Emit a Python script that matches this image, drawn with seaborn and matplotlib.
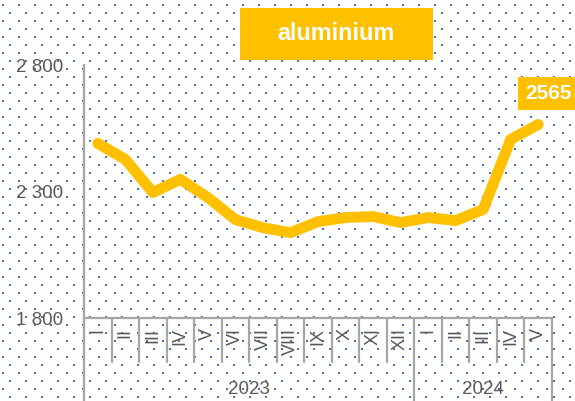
import numpy as np
import pandas as pd
import matplotlib
matplotlib.use('Agg')
import matplotlib.pyplot as plt
import matplotlib.transforms as mtransforms
from matplotlib.patches import Rectangle
import seaborn as sns

# dados
months = ['I', 'II', 'III', 'IV', 'V', 'VI', 'VII', 'VIII', 'IX', 'X', 'XI', 'XII',
          'I', 'II', 'III', 'IV', 'V']
years = ['2023', '2024']
year_counts = [12, 5]
prices = [2490, 2427, 2296, 2348, 2276, 2189, 2157, 2137, 2181, 2197, 2201, 2177,
          2197, 2185, 2229, 2506, 2565]
yticks = [1800, 2300, 2800]
title = 'aluminium'

GOLD = '#FFC000'
GREY_TXT = '#595959'
GREY_LN = '#A6A6A6'

sns.set_theme(style='white')
plt.rcParams['font.family'] = ['Liberation Sans', 'DejaVu Sans']

W, H = 575, 401
fig = plt.figure(figsize=(W / 100, H / 100), dpi=100)

# fundo pontilhado (coordenadas em pixels)
bg = fig.add_axes([0, 0, 1, 1], zorder=0)
bg.set_xlim(0, W)
bg.set_ylim(H, 0)
bg.axis('off')
rows_y = np.arange(4.7, H, 8)
dx, dy = [], []
for k, yy in enumerate(rows_y):
    x0 = 2.7 if k % 2 == 0 else 10.0
    xs = np.arange(x0, W, 16)
    dx.extend(xs)
    dy.extend([yy] * len(xs))
bg.scatter(dx, dy, s=3.4, marker='s', color='#4472C4', linewidths=0, zorder=1)

# caixa do título
bg.add_patch(Rectangle((240, 7.5), 193, 52, facecolor=GOLD, edgecolor='none', zorder=2))
bg.text(336.5, 33.5, title, color='white', fontsize=16.8, fontweight='bold',
        ha='center', va='center', zorder=3)

# eixo principal
left, right, top, bottom = 84, 552, 65, 318
ax = fig.add_axes([left / W, (H - bottom) / H, (right - left) / W, (bottom - top) / H], zorder=2)
ax.patch.set_alpha(0)

df = pd.DataFrame({'idx': range(len(prices)), 'preco': prices})
sns.lineplot(data=df, x='idx', y='preco', ax=ax, color=GOLD, linewidth=7.8,
             solid_capstyle='round', solid_joinstyle='round', clip_on=False)

ax.set_xlim(-0.5, len(prices) - 0.5)
ax.set_ylim(1800, 2800)
ax.set_yticks(yticks)
ax.set_yticklabels([f'{v:,}'.replace(',', ' ') for v in yticks], fontsize=13.5, color=GREY_TXT)
ax.tick_params(axis='y', length=0, pad=15)
ax.set_xticks([])
ax.set_xlabel('')
ax.set_ylabel('')
for s in ['top', 'right']:
    ax.spines[s].set_visible(False)
for s in ['left', 'bottom']:
    ax.spines[s].set_color(GREY_LN)
    ax.spines[s].set_linewidth(1.6)

trans = mtransforms.blended_transform_factory(ax.transData, ax.transAxes)
ax_h = bottom - top

# separadores de categoria e de ano
year_edges = np.cumsum([0] + year_counts) - 0.5
for k in range(1, len(prices)):
    xb = k - 0.5
    if xb in year_edges:
        continue
    ax.plot([xb, xb], [0, -44 / ax_h], transform=trans, color=GREY_LN, lw=1.6, clip_on=False)
for xb in year_edges:
    ax.plot([xb, xb], [0, -90 / ax_h], transform=trans, color=GREY_LN, lw=1.6, clip_on=False)

# rótulos dos meses
for i, m in enumerate(months):
    ax.text(i, -10 / ax_h, m, transform=trans, rotation=90, ha='center', va='top',
            fontsize=13, color=GREY_TXT)

# rótulos dos anos
for j, yr in enumerate(years):
    xc = (year_edges[j] + year_edges[j + 1]) / 2
    ax.text(xc, -72 / ax_h, yr, transform=trans, ha='center', va='center',
            fontsize=13.5, color=GREY_TXT)

# rótulo do último valor
ax.annotate(f'{prices[-1]}', xy=(len(prices) - 1, prices[-1]), xytext=(7.4, 22.3),
            textcoords='offset points', ha='center', va='center', fontsize=15,
            fontweight='bold', color='white', annotation_clip=False,
            bbox=dict(boxstyle='square,pad=0.33', fc=GOLD, ec='none'))

fig.savefig('out.png', dpi=100)
